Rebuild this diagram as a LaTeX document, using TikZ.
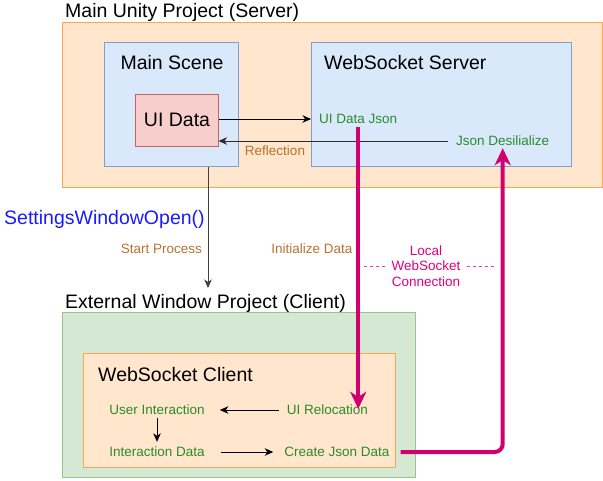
\documentclass[tikz,border=0pt]{standalone}
\usepackage{fontspec}
\setmainfont{Liberation Sans}
\usetikzlibrary{arrows.meta,calc}
\definecolor{ofill}{HTML}{FFE6CC}
\definecolor{odraw}{HTML}{FFA64D}
\definecolor{bfill}{HTML}{DAE8FC}
\definecolor{bdraw}{HTML}{7F9FCF}
\definecolor{rfill}{HTML}{F8CECC}
\definecolor{rdraw}{HTML}{C8625E}
\definecolor{gfill}{HTML}{D5E8D4}
\definecolor{gdraw}{HTML}{9CC585}
\definecolor{gtext}{HTML}{2A8C2A}
\definecolor{btext}{HTML}{B8722F}
\definecolor{mag}{HTML}{D1006E}
\definecolor{magtext}{HTML}{E0007A}
\definecolor{bluetext}{HTML}{1A1AFF}
\definecolor{graydark}{HTML}{404040}
\begin{document}
\begin{tikzpicture}[x=1pt,y=-1pt,
  box/.style={rectangle,line width=1pt,inner sep=0pt},
  obox/.style={box,fill=ofill,draw=odraw},
  bbox/.style={box,fill=bfill,draw=bdraw},
  rbox/.style={box,fill=rfill,draw=rdraw},
  gbox/.style={box,fill=gfill,draw=gdraw},
  big/.style={font=\fontsize{19.5}{23}\selectfont,inner sep=2pt},
  small/.style={font=\fontsize{13.5}{15.5}\selectfont,inner sep=2pt},
  gsmall/.style={small,text=gtext},
  bsmall/.style={small,text=btext},
  arr/.style={line width=1pt,-{Stealth[length=8.5pt,width=7.5pt,inset=2.5pt]}},
  marr/.style={mag,line width=4pt,rounded corners=8pt,-{Stealth[length=17pt,width=16pt,inset=5pt]}}
]
\useasboundingbox (0,0) rectangle (603,480);
% boxes
\node[obox,minimum width=540pt,minimum height=165pt] (server) at (332,104.5) {};
\node[bbox,minimum width=134pt,minimum height=124pt] (mainscene) at (171,104) {};
\node[rbox,minimum width=83pt,minimum height=52pt] (uidatabox) at (176.5,120) {};
\node[bbox,minimum width=260pt,minimum height=124pt] (wsserver) at (441,104) {};
\node[gbox,minimum width=353pt,minimum height=165pt] (client) at (238.5,394.5) {};
\node[obox,minimum width=312pt,minimum height=114pt] (wsclient) at (239,410) {};
% titles
\node[big,anchor=west] (servertitle) at (63,12) {Main Unity Project (Server)};
\node[big] (mainscenetitle) at (172,63) {Main Scene};
\node[big] (uidata) at (177,120) {UI Data};
\node[big,anchor=west] (wsservertitle) at (322,63) {WebSocket Server};
\node[big,anchor=west] (clienttitle) at (63,303) {External Window Project (Client)};
\node[big,anchor=west] (wsclienttitle) at (96,375) {WebSocket Client};
\node[big,anchor=west,text=bluetext] (settings) at (2,219) {SettingsWindowOpen()};
% small labels
\node[gsmall,anchor=west] (uidatajson) at (317,119) {UI Data Json};
\node[gsmall,anchor=west] (jsondes) at (454,141) {Json Desilialize};
\node[bsmall] (reflection) at (275,151) {Reflection};
\node[bsmall,anchor=east] (startproc) at (204,249) {Start Process};
\node[bsmall] (initdata) at (312,249) {Initialize Data};
\node[small,text=magtext,align=center] (localws) at (426,266) {Local\\WebSocket\\Connection};
\node[gsmall] (userint) at (157,410) {User Interaction};
\node[gsmall] (uireloc) at (327.5,410) {UI Relocation};
\node[gsmall] (interdata) at (157,452) {Interaction Data};
\node[gsmall] (createjson) at (337,452) {Create Json Data};
\coordinate (procend) at (208,288);
% dashed connection marks
\draw[magtext!75,line width=1pt,dash pattern=on 3pt off 3pt] ([xshift=-4pt]localws.west) -- ++(-22,0);
\draw[magtext!75,line width=1pt,dash pattern=on 3pt off 3pt] ([xshift=4pt]localws.east) -- ++(28,0);
% black arrows
\draw[arr] (uidatabox.east |- uidatajson.west) -- ([xshift=-6pt]uidatajson.west);
\draw[arr,graydark!70!black] ([xshift=-6pt]jsondes.west) -- (uidatabox.east |- jsondes.west);
\draw[arr,graydark] (mainscene.south -| procend) -- (procend);
\draw[arr] ([xshift=-6pt]uireloc.west) -- ([xshift=13pt]userint.east);
\draw[arr] ([yshift=-1pt]userint.south) -- ([yshift=3pt]interdata.north);
\draw[arr] ([xshift=14pt]interdata.east) -- ([xshift=-9pt]createjson.west);
% magenta arrows
\draw[marr] ([yshift=-1pt]uidatajson.south) -- ([yshift=-6pt]uidatajson.south |- uireloc.north);
\draw[marr] ([xshift=9pt]createjson.east) -| (jsondes.south);
\end{tikzpicture}
\end{document}
